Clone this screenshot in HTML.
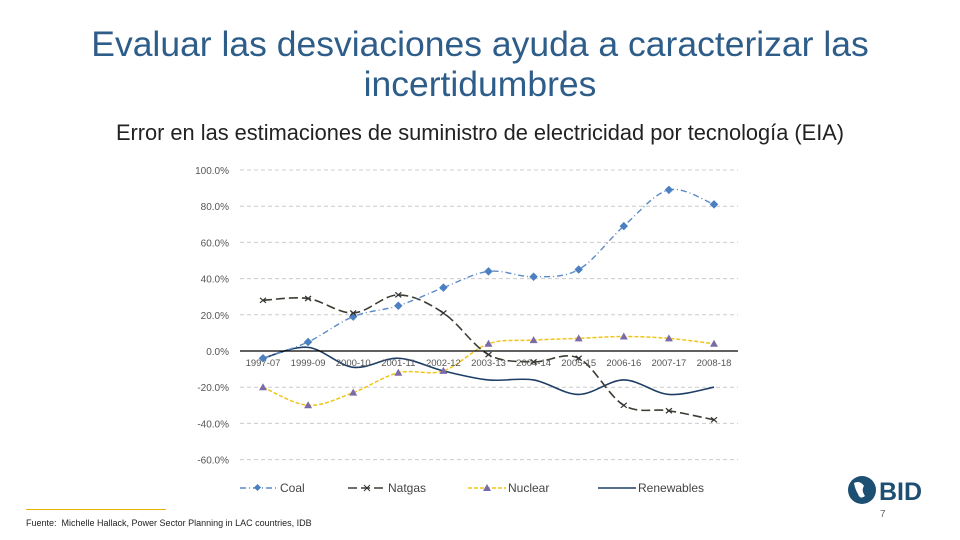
<!DOCTYPE html>
<html><head><meta charset="utf-8"><style>
body{margin:0;width:960px;height:540px;background:#fff;overflow:hidden;font-family:"Liberation Sans",sans-serif;position:relative}
.t{position:absolute;left:0;width:960px;text-align:center;color:#2e5d8a;font-size:35.5px;line-height:40px;top:24px}
.s{position:absolute;left:0;width:960px;text-align:center;color:#222;font-size:21.8px;top:120px}
</style></head><body>
<div class="t">Evaluar las desviaciones ayuda a caracterizar las<br>incertidumbres</div>
<div class="s">Error en las estimaciones de suministro de electricidad por tecnología (EIA)</div>
<svg id="c" width="960" height="540" style="position:absolute;left:0;top:0"></svg>
<div style="position:absolute;left:26px;top:509px;width:140px;border-top:1px solid #e8b400"></div>
<div style="position:absolute;left:26px;top:518px;font-size:9px;color:#222">Fuente:&nbsp; Michelle Hallack, Power Sector Planning in LAC countries, IDB</div>
<div style="position:absolute;left:880px;top:509px;font-size:10px;color:#666">7</div>
<svg style="position:absolute;left:846px;top:474px" width="82" height="32">
<circle cx="16" cy="16" r="14" fill="#1d4f73"/><path d="M8 9 Q14 6 18 12 Q15 16 19 22 Q14 26 12 20 Q9 15 8 9Z" fill="#fff"/>
<text x="33" y="26" font-size="25" font-weight="bold" fill="#1d4f73" font-family="Liberation Sans,sans-serif">BID</text></svg>
<script>
const categories=["1997-07","1999-09","2000-10","2001-11","2002-12","2003-13","2004-14","2005-15","2006-16","2007-17","2008-18"];
const coal=[-4,5,19,25,35,44,41,45,69,89,81];
const natgas=[28,29,21,31,21,-2,-6,-4,-30,-33,-38];
const nuclear=[-20,-30,-23,-12,-11,4,6,7,8,7,4];
const renewables=[-4,2,-9,-4,-11,-16,-16,-24,-16,-24,-20];
const yTicks=[100,80,60,40,20,0,-20,-40,-60];
const svg=document.getElementById('c');const NS='http://www.w3.org/2000/svg';
const X=i=>263+i*(714-263)/(categories.length-1);
const Y=v=>351-v*1.81;
function mk(t,a,name){const e=document.createElementNS(NS,t);for(const k in a)e.setAttribute(k,a[k]);


svg.appendChild(e);return e;}
yTicks.forEach(v=>{
 if(v!==0)mk('line',{x1:240,x2:738,y1:Y(v),y2:Y(v),stroke:'#ccc','stroke-dasharray':'4 3'},'gridline');
 const t=mk('text',{x:229,y:Y(v)+4,'text-anchor':'end','font-size':10,fill:'#555'},'y-tick-label');t.textContent=v.toFixed(1)+'%';
});
function smooth(vals){let p=vals.map((v,i)=>[X(i),Y(v)]);let d='M'+p[0];
for(let i=0;i<p.length-1;i++){const p0=p[Math.max(0,i-1)],p1=p[i],p2=p[i+1],p3=p[Math.min(p.length-1,i+2)];
const c1=[p1[0]+(p2[0]-p0[0])/6,p1[1]+(p2[1]-p0[1])/6],c2=[p2[0]-(p3[0]-p1[0])/6,p2[1]-(p3[1]-p1[1])/6];
d+=' C'+c1+' '+c2+' '+p2;}return d;}
mk('path',{d:smooth(renewables),fill:'none',stroke:'#1f3e66','stroke-width':1.6},'renewables-line');
mk('path',{d:smooth(nuclear),fill:'none',stroke:'#f0c419','stroke-width':1.5,'stroke-dasharray':'4 2'},'nuclear-line');
mk('path',{d:smooth(natgas),fill:'none',stroke:'#3d3d33','stroke-width':1.6,'stroke-dasharray':'9 4'},'natgas-line');
mk('path',{d:smooth(coal),fill:'none',stroke:'#5b8ac6','stroke-width':1.4,'stroke-dasharray':'6 3 1 3'},'coal-line');
mk('line',{x1:240,x2:738,y1:Y(0),y2:Y(0),stroke:'#000','stroke-width':1.2},'x-axis');
categories.forEach((c,i)=>{const t=mk('text',{x:X(i),y:366,'text-anchor':'middle','font-size':9.5,fill:'#555'},'x-tick-label');t.textContent=c;});
coal.forEach((v,i)=>mk('rect',{x:X(i)-3,y:Y(v)-3,width:6,height:6,fill:'#4a7fc1',transform:`rotate(45 ${X(i)} ${Y(v)})`},'coal-point'));
natgas.forEach((v,i)=>mk('path',{d:`M${X(i)-3} ${Y(v)-2.5}L${X(i)+3} ${Y(v)+2.5}M${X(i)-3} ${Y(v)+2.5}L${X(i)+3} ${Y(v)-2.5}`,stroke:'#333','stroke-width':1.2},'natgas-point'));
nuclear.forEach((v,i)=>mk('path',{d:`M${X(i)} ${Y(v)-4}L${X(i)+4} ${Y(v)+3}L${X(i)-4} ${Y(v)+3}Z`,fill:'#7b6aa8'},'nuclear-point'));
const L=[['Coal',240,'#5b8ac6','6 3 1 3'],['Natgas',348,'#3d3d33','9 4'],['Nuclear',468,'#f0c419','4 2'],['Renewables',598,'#1f3e66','']];
L.forEach(l=>{mk('line',{x1:l[1],x2:l[1]+38,y1:488,y2:488,stroke:l[2],'stroke-width':1.5,'stroke-dasharray':l[3]},'legend-swatch');
const t=mk('text',{x:l[1]+40,y:492,'font-size':12,fill:'#444'},'legend-entry');t.textContent=l[0];});
mk('rect',{x:255,y:485,width:5,height:5,fill:'#4a7fc1',transform:'rotate(45 257.5 487.5)'},'legend-coal-marker');
mk('path',{d:'M364 485L370 491M364 491L370 485',stroke:'#333'},'legend-natgas-marker');
mk('path',{d:'M487 484L491 491L483 491Z',fill:'#7b6aa8'},'legend-nuclear-marker');
</script>
</body></html>
